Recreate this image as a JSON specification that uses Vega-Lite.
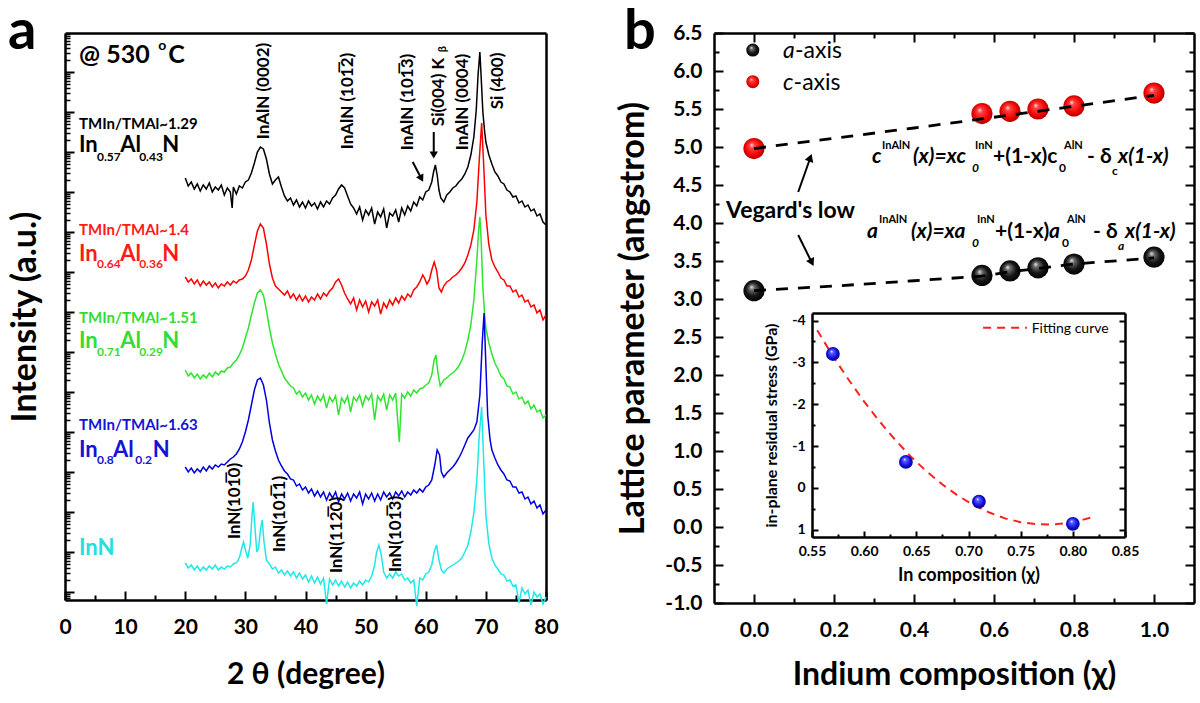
{
"$schema":"https://vega.github.io/schema/vega-lite/v6.json",
"width":1200,"height":703,"autosize":"none","padding":0,"background":"white",
"config":{"view":{"stroke":null},"font":"Lato","text":{"font":"Lato"},
"axis":{"grid":false,"domainColor":"#000","domainWidth":2.5,"tickColor":"#000","tickWidth":2,"labelColor":"#000","labelFont":"Lato","labelFontWeight":"bold","titleColor":"#000","titleFont":"Lato","titleFontWeight":"bold","labelOverlap":false,"labelFlush":false}},
"resolve":{"scale":{"x":"independent","y":"independent","color":"independent"},"axis":{"x":"independent","y":"independent"}},
"datasets":{
"dummy":[{"v":0}],
"xrd":[
{"s":"k","x":20,"y":422},{"s":"k","x":20.5,"y":414},{"s":"k","x":21,"y":418},{"s":"k","x":21.5,"y":411},{"s":"k","x":22,"y":416},{"s":"k","x":22.5,"y":409},{"s":"k","x":23,"y":415},{"s":"k","x":23.5,"y":411},{"s":"k","x":24,"y":417},{"s":"k","x":24.5,"y":408},{"s":"k","x":25,"y":413},{"s":"k","x":25.5,"y":410},{"s":"k","x":26,"y":415},{"s":"k","x":26.5,"y":405},{"s":"k","x":27,"y":412},{"s":"k","x":27.5,"y":408},{"s":"k","x":27.8,"y":392},{"s":"k","x":28,"y":413},{"s":"k","x":28.5,"y":406},{"s":"k","x":29,"y":414},{"s":"k","x":29.5,"y":412},{"s":"k","x":30,"y":418},{"s":"k","x":30.5,"y":420},{"s":"k","x":31,"y":427},{"s":"k","x":31.5,"y":437},{"s":"k","x":32,"y":448},{"s":"k","x":32.5,"y":453},{"s":"k","x":33,"y":451},{"s":"k","x":33.5,"y":441},{"s":"k","x":34,"y":426},{"s":"k","x":34.5,"y":416},{"s":"k","x":35,"y":420},{"s":"k","x":35.5,"y":423},{"s":"k","x":36,"y":413},{"s":"k","x":36.5,"y":404},{"s":"k","x":37,"y":399},{"s":"k","x":37.5,"y":402},{"s":"k","x":38,"y":395},{"s":"k","x":38.5,"y":400},{"s":"k","x":39,"y":393},{"s":"k","x":39.5,"y":398},{"s":"k","x":40,"y":392},{"s":"k","x":40.5,"y":399},{"s":"k","x":41,"y":394},{"s":"k","x":41.5,"y":397},{"s":"k","x":42,"y":391},{"s":"k","x":42.5,"y":398},{"s":"k","x":43,"y":393},{"s":"k","x":43.5,"y":399},{"s":"k","x":44,"y":396},{"s":"k","x":44.5,"y":402},{"s":"k","x":45,"y":405},{"s":"k","x":45.5,"y":411},{"s":"k","x":46,"y":415},{"s":"k","x":46.5,"y":412},{"s":"k","x":47,"y":404},{"s":"k","x":47.5,"y":396},{"s":"k","x":48,"y":392},{"s":"k","x":48.5,"y":386},{"s":"k","x":49,"y":393},{"s":"k","x":49.5,"y":380},{"s":"k","x":50,"y":390},{"s":"k","x":50.5,"y":385},{"s":"k","x":51,"y":392},{"s":"k","x":51.5,"y":376},{"s":"k","x":52,"y":388},{"s":"k","x":52.5,"y":383},{"s":"k","x":53,"y":391},{"s":"k","x":53.5,"y":372},{"s":"k","x":54,"y":387},{"s":"k","x":54.5,"y":384},{"s":"k","x":55,"y":390},{"s":"k","x":55.5,"y":378},{"s":"k","x":56,"y":392},{"s":"k","x":56.5,"y":385},{"s":"k","x":57,"y":394},{"s":"k","x":57.5,"y":389},{"s":"k","x":58,"y":398},{"s":"k","x":58.5,"y":394},{"s":"k","x":59,"y":403},{"s":"k","x":59.5,"y":400},{"s":"k","x":60,"y":408},{"s":"k","x":60.5,"y":410},{"s":"k","x":61,"y":418},{"s":"k","x":61.3,"y":428},{"s":"k","x":61.6,"y":435},{"s":"k","x":61.9,"y":425},{"s":"k","x":62.2,"y":410},{"s":"k","x":62.5,"y":402},{"s":"k","x":63,"y":398},{"s":"k","x":63.5,"y":405},{"s":"k","x":64,"y":408},{"s":"k","x":64.5,"y":412},{"s":"k","x":65,"y":414},{"s":"k","x":65.5,"y":418},{"s":"k","x":66,"y":421},{"s":"k","x":66.5,"y":426},{"s":"k","x":67,"y":433},{"s":"k","x":67.5,"y":445},{"s":"k","x":68,"y":463},{"s":"k","x":68.4,"y":490},{"s":"k","x":68.7,"y":525},{"s":"k","x":69,"y":548},{"s":"k","x":69.2,"y":525},{"s":"k","x":69.5,"y":488},{"s":"k","x":69.8,"y":468},{"s":"k","x":70,"y":458},{"s":"k","x":70.5,"y":445},{"s":"k","x":71,"y":436},{"s":"k","x":71.5,"y":428},{"s":"k","x":72,"y":424},{"s":"k","x":72.5,"y":418},{"s":"k","x":73,"y":416},{"s":"k","x":73.5,"y":410},{"s":"k","x":74,"y":408},{"s":"k","x":74.5,"y":403},{"s":"k","x":75,"y":404},{"s":"k","x":75.5,"y":397},{"s":"k","x":76,"y":399},{"s":"k","x":76.5,"y":393},{"s":"k","x":77,"y":395},{"s":"k","x":77.5,"y":389},{"s":"k","x":78,"y":391},{"s":"k","x":78.5,"y":384},{"s":"k","x":79,"y":386},{"s":"k","x":79.5,"y":378},{"s":"k","x":80,"y":375},
{"s":"r","x":20,"y":323},{"s":"r","x":20.5,"y":318},{"s":"r","x":21,"y":321},{"s":"r","x":21.5,"y":316},{"s":"r","x":22,"y":320},{"s":"r","x":22.5,"y":314},{"s":"r","x":23,"y":319},{"s":"r","x":23.5,"y":315},{"s":"r","x":24,"y":318},{"s":"r","x":24.5,"y":313},{"s":"r","x":25,"y":317},{"s":"r","x":25.5,"y":312},{"s":"r","x":26,"y":316},{"s":"r","x":26.5,"y":314},{"s":"r","x":27,"y":318},{"s":"r","x":27.5,"y":315},{"s":"r","x":28,"y":319},{"s":"r","x":28.5,"y":317},{"s":"r","x":29,"y":320},{"s":"r","x":29.5,"y":321},{"s":"r","x":30,"y":324},{"s":"r","x":30.5,"y":330},{"s":"r","x":31,"y":340},{"s":"r","x":31.5,"y":355},{"s":"r","x":32,"y":369},{"s":"r","x":32.5,"y":376},{"s":"r","x":33,"y":372},{"s":"r","x":33.5,"y":356},{"s":"r","x":34,"y":336},{"s":"r","x":34.5,"y":322},{"s":"r","x":35,"y":314},{"s":"r","x":35.5,"y":311},{"s":"r","x":36,"y":308},{"s":"r","x":36.5,"y":305},{"s":"r","x":37,"y":309},{"s":"r","x":37.5,"y":302},{"s":"r","x":38,"y":306},{"s":"r","x":38.5,"y":300},{"s":"r","x":39,"y":305},{"s":"r","x":39.5,"y":299},{"s":"r","x":40,"y":304},{"s":"r","x":40.5,"y":298},{"s":"r","x":41,"y":303},{"s":"r","x":41.5,"y":300},{"s":"r","x":42,"y":306},{"s":"r","x":42.5,"y":301},{"s":"r","x":43,"y":307},{"s":"r","x":43.5,"y":304},{"s":"r","x":44,"y":309},{"s":"r","x":44.5,"y":312},{"s":"r","x":45,"y":318},{"s":"r","x":45.5,"y":321},{"s":"r","x":46,"y":315},{"s":"r","x":46.5,"y":307},{"s":"r","x":47,"y":301},{"s":"r","x":47.5,"y":296},{"s":"r","x":48,"y":302},{"s":"r","x":48.5,"y":290},{"s":"r","x":49,"y":300},{"s":"r","x":49.5,"y":293},{"s":"r","x":50,"y":299},{"s":"r","x":50.5,"y":288},{"s":"r","x":51,"y":298},{"s":"r","x":51.5,"y":294},{"s":"r","x":52,"y":300},{"s":"r","x":52.5,"y":286},{"s":"r","x":53,"y":297},{"s":"r","x":53.5,"y":292},{"s":"r","x":54,"y":300},{"s":"r","x":54.5,"y":295},{"s":"r","x":55,"y":302},{"s":"r","x":55.5,"y":297},{"s":"r","x":56,"y":304},{"s":"r","x":56.5,"y":300},{"s":"r","x":57,"y":306},{"s":"r","x":57.5,"y":303},{"s":"r","x":58,"y":310},{"s":"r","x":58.5,"y":313},{"s":"r","x":59,"y":318},{"s":"r","x":59.5,"y":325},{"s":"r","x":59.8,"y":322},{"s":"r","x":60.2,"y":316},{"s":"r","x":60.6,"y":320},{"s":"r","x":61,"y":330},{"s":"r","x":61.4,"y":338},{"s":"r","x":61.8,"y":330},{"s":"r","x":62.2,"y":312},{"s":"r","x":62.6,"y":308},{"s":"r","x":63,"y":314},{"s":"r","x":63.5,"y":318},{"s":"r","x":64,"y":320},{"s":"r","x":64.5,"y":323},{"s":"r","x":65,"y":325},{"s":"r","x":65.5,"y":328},{"s":"r","x":66,"y":332},{"s":"r","x":66.5,"y":337},{"s":"r","x":67,"y":345},{"s":"r","x":67.5,"y":355},{"s":"r","x":68,"y":370},{"s":"r","x":68.5,"y":398},{"s":"r","x":68.9,"y":440},{"s":"r","x":69.3,"y":477},{"s":"r","x":69.6,"y":440},{"s":"r","x":70,"y":385},{"s":"r","x":70.5,"y":355},{"s":"r","x":71,"y":340},{"s":"r","x":71.5,"y":333},{"s":"r","x":72,"y":328},{"s":"r","x":72.5,"y":322},{"s":"r","x":73,"y":320},{"s":"r","x":73.5,"y":314},{"s":"r","x":74,"y":314},{"s":"r","x":74.5,"y":308},{"s":"r","x":75,"y":310},{"s":"r","x":75.5,"y":303},{"s":"r","x":76,"y":305},{"s":"r","x":76.5,"y":298},{"s":"r","x":77,"y":300},{"s":"r","x":77.5,"y":293},{"s":"r","x":78,"y":295},{"s":"r","x":78.5,"y":287},{"s":"r","x":79,"y":290},{"s":"r","x":79.5,"y":280},{"s":"r","x":80,"y":285},
{"s":"g","x":20,"y":230},{"s":"g","x":20.5,"y":224},{"s":"g","x":21,"y":227},{"s":"g","x":21.5,"y":222},{"s":"g","x":22,"y":226},{"s":"g","x":22.5,"y":221},{"s":"g","x":23,"y":225},{"s":"g","x":23.5,"y":222},{"s":"g","x":24,"y":227},{"s":"g","x":24.5,"y":223},{"s":"g","x":25,"y":228},{"s":"g","x":25.5,"y":225},{"s":"g","x":26,"y":229},{"s":"g","x":26.5,"y":228},{"s":"g","x":27,"y":232},{"s":"g","x":27.5,"y":233},{"s":"g","x":28,"y":237},{"s":"g","x":28.5,"y":240},{"s":"g","x":29,"y":245},{"s":"g","x":29.5,"y":252},{"s":"g","x":30,"y":262},{"s":"g","x":30.5,"y":272},{"s":"g","x":31,"y":285},{"s":"g","x":31.5,"y":297},{"s":"g","x":32,"y":307},{"s":"g","x":32.5,"y":310},{"s":"g","x":33,"y":305},{"s":"g","x":33.5,"y":290},{"s":"g","x":34,"y":272},{"s":"g","x":34.5,"y":257},{"s":"g","x":35,"y":246},{"s":"g","x":35.5,"y":236},{"s":"g","x":36,"y":229},{"s":"g","x":36.5,"y":222},{"s":"g","x":37,"y":218},{"s":"g","x":37.5,"y":214},{"s":"g","x":38,"y":212},{"s":"g","x":38.5,"y":206},{"s":"g","x":39,"y":209},{"s":"g","x":39.5,"y":203},{"s":"g","x":40,"y":207},{"s":"g","x":40.5,"y":200},{"s":"g","x":41,"y":205},{"s":"g","x":41.5,"y":196},{"s":"g","x":42,"y":204},{"s":"g","x":42.5,"y":199},{"s":"g","x":43,"y":205},{"s":"g","x":43.5,"y":192},{"s":"g","x":44,"y":203},{"s":"g","x":44.5,"y":198},{"s":"g","x":45,"y":204},{"s":"g","x":45.5,"y":185},{"s":"g","x":46,"y":202},{"s":"g","x":46.5,"y":197},{"s":"g","x":47,"y":204},{"s":"g","x":47.5,"y":188},{"s":"g","x":48,"y":203},{"s":"g","x":48.5,"y":199},{"s":"g","x":49,"y":205},{"s":"g","x":49.5,"y":194},{"s":"g","x":50,"y":204},{"s":"g","x":50.5,"y":200},{"s":"g","x":51,"y":206},{"s":"g","x":51.5,"y":180},{"s":"g","x":52,"y":204},{"s":"g","x":52.5,"y":199},{"s":"g","x":53,"y":206},{"s":"g","x":53.5,"y":190},{"s":"g","x":54,"y":205},{"s":"g","x":54.5,"y":200},{"s":"g","x":55,"y":207},{"s":"g","x":55.6,"y":158},{"s":"g","x":56,"y":206},{"s":"g","x":56.5,"y":202},{"s":"g","x":57,"y":208},{"s":"g","x":57.5,"y":204},{"s":"g","x":58,"y":210},{"s":"g","x":58.5,"y":207},{"s":"g","x":59,"y":211},{"s":"g","x":59.5,"y":212},{"s":"g","x":60,"y":215},{"s":"g","x":60.5,"y":217},{"s":"g","x":61,"y":225},{"s":"g","x":61.4,"y":240},{"s":"g","x":61.7,"y":245},{"s":"g","x":62,"y":228},{"s":"g","x":62.4,"y":214},{"s":"g","x":63,"y":220},{"s":"g","x":63.5,"y":222},{"s":"g","x":64,"y":225},{"s":"g","x":64.5,"y":227},{"s":"g","x":65,"y":230},{"s":"g","x":65.5,"y":234},{"s":"g","x":66,"y":240},{"s":"g","x":66.5,"y":248},{"s":"g","x":67,"y":260},{"s":"g","x":67.5,"y":275},{"s":"g","x":68,"y":300},{"s":"g","x":68.5,"y":340},{"s":"g","x":68.8,"y":370},{"s":"g","x":69,"y":383},{"s":"g","x":69.2,"y":362},{"s":"g","x":69.5,"y":312},{"s":"g","x":69.8,"y":285},{"s":"g","x":70,"y":272},{"s":"g","x":70.5,"y":257},{"s":"g","x":71,"y":246},{"s":"g","x":71.5,"y":237},{"s":"g","x":72,"y":231},{"s":"g","x":72.5,"y":224},{"s":"g","x":73,"y":221},{"s":"g","x":73.5,"y":214},{"s":"g","x":74,"y":213},{"s":"g","x":74.5,"y":206},{"s":"g","x":75,"y":208},{"s":"g","x":75.5,"y":201},{"s":"g","x":76,"y":203},{"s":"g","x":76.5,"y":196},{"s":"g","x":77,"y":199},{"s":"g","x":77.5,"y":191},{"s":"g","x":78,"y":195},{"s":"g","x":78.5,"y":188},{"s":"g","x":79,"y":190},{"s":"g","x":79.5,"y":182},{"s":"g","x":80,"y":185},
{"s":"b","x":20,"y":133},{"s":"b","x":20.5,"y":128},{"s":"b","x":21,"y":132},{"s":"b","x":21.5,"y":127},{"s":"b","x":22,"y":131},{"s":"b","x":22.5,"y":128},{"s":"b","x":23,"y":133},{"s":"b","x":23.5,"y":129},{"s":"b","x":24,"y":134},{"s":"b","x":24.5,"y":131},{"s":"b","x":25,"y":135},{"s":"b","x":25.5,"y":133},{"s":"b","x":26,"y":136},{"s":"b","x":26.5,"y":135},{"s":"b","x":27,"y":138},{"s":"b","x":27.5,"y":141},{"s":"b","x":28,"y":143},{"s":"b","x":28.5,"y":146},{"s":"b","x":29,"y":151},{"s":"b","x":29.5,"y":158},{"s":"b","x":30,"y":168},{"s":"b","x":30.5,"y":180},{"s":"b","x":31,"y":195},{"s":"b","x":31.5,"y":210},{"s":"b","x":32,"y":220},{"s":"b","x":32.5,"y":222},{"s":"b","x":33,"y":215},{"s":"b","x":33.5,"y":200},{"s":"b","x":34,"y":177},{"s":"b","x":34.5,"y":160},{"s":"b","x":35,"y":149},{"s":"b","x":35.5,"y":140},{"s":"b","x":36,"y":134},{"s":"b","x":36.5,"y":129},{"s":"b","x":37,"y":126},{"s":"b","x":37.5,"y":121},{"s":"b","x":38,"y":120},{"s":"b","x":38.5,"y":114},{"s":"b","x":39,"y":116},{"s":"b","x":39.5,"y":110},{"s":"b","x":40,"y":113},{"s":"b","x":40.5,"y":107},{"s":"b","x":41,"y":111},{"s":"b","x":41.5,"y":104},{"s":"b","x":42,"y":109},{"s":"b","x":42.5,"y":103},{"s":"b","x":43,"y":108},{"s":"b","x":43.5,"y":100},{"s":"b","x":44,"y":107},{"s":"b","x":44.5,"y":102},{"s":"b","x":45,"y":108},{"s":"b","x":45.5,"y":98},{"s":"b","x":46,"y":106},{"s":"b","x":46.5,"y":101},{"s":"b","x":47,"y":107},{"s":"b","x":47.5,"y":99},{"s":"b","x":48,"y":106},{"s":"b","x":48.5,"y":102},{"s":"b","x":49,"y":108},{"s":"b","x":49.5,"y":96},{"s":"b","x":50,"y":106},{"s":"b","x":50.5,"y":101},{"s":"b","x":51,"y":107},{"s":"b","x":51.5,"y":99},{"s":"b","x":52,"y":106},{"s":"b","x":52.5,"y":100},{"s":"b","x":53,"y":108},{"s":"b","x":53.5,"y":103},{"s":"b","x":54,"y":107},{"s":"b","x":54.5,"y":101},{"s":"b","x":55,"y":108},{"s":"b","x":55.5,"y":104},{"s":"b","x":56,"y":109},{"s":"b","x":56.5,"y":103},{"s":"b","x":57,"y":108},{"s":"b","x":57.5,"y":105},{"s":"b","x":58,"y":110},{"s":"b","x":58.5,"y":107},{"s":"b","x":59,"y":111},{"s":"b","x":59.5,"y":108},{"s":"b","x":60,"y":113},{"s":"b","x":60.5,"y":115},{"s":"b","x":61,"y":120},{"s":"b","x":61.5,"y":135},{"s":"b","x":61.9,"y":150},{"s":"b","x":62.3,"y":145},{"s":"b","x":62.6,"y":128},{"s":"b","x":63,"y":123},{"s":"b","x":63.5,"y":127},{"s":"b","x":64,"y":130},{"s":"b","x":64.5,"y":133},{"s":"b","x":65,"y":137},{"s":"b","x":65.5,"y":142},{"s":"b","x":66,"y":148},{"s":"b","x":66.5,"y":155},{"s":"b","x":67,"y":162},{"s":"b","x":67.5,"y":166},{"s":"b","x":68,"y":170},{"s":"b","x":68.5,"y":178},{"s":"b","x":69,"y":205},{"s":"b","x":69.4,"y":258},{"s":"b","x":69.7,"y":287},{"s":"b","x":70,"y":235},{"s":"b","x":70.3,"y":185},{"s":"b","x":70.7,"y":160},{"s":"b","x":71,"y":150},{"s":"b","x":71.5,"y":142},{"s":"b","x":72,"y":135},{"s":"b","x":72.5,"y":130},{"s":"b","x":73,"y":126},{"s":"b","x":73.5,"y":120},{"s":"b","x":74,"y":119},{"s":"b","x":74.5,"y":113},{"s":"b","x":75,"y":113},{"s":"b","x":75.5,"y":107},{"s":"b","x":76,"y":108},{"s":"b","x":76.5,"y":101},{"s":"b","x":77,"y":103},{"s":"b","x":77.5,"y":96},{"s":"b","x":78,"y":99},{"s":"b","x":78.5,"y":92},{"s":"b","x":79,"y":95},{"s":"b","x":79.5,"y":86},{"s":"b","x":80,"y":90},
{"s":"c","x":20,"y":37},{"s":"c","x":20.5,"y":32},{"s":"c","x":21,"y":35},{"s":"c","x":21.5,"y":30},{"s":"c","x":22,"y":34},{"s":"c","x":22.5,"y":29},{"s":"c","x":23,"y":33},{"s":"c","x":23.5,"y":30},{"s":"c","x":24,"y":34},{"s":"c","x":24.5,"y":31},{"s":"c","x":25,"y":35},{"s":"c","x":25.5,"y":30},{"s":"c","x":26,"y":33},{"s":"c","x":26.5,"y":31},{"s":"c","x":27,"y":34},{"s":"c","x":27.5,"y":33},{"s":"c","x":28,"y":36},{"s":"c","x":28.5,"y":37},{"s":"c","x":29,"y":42},{"s":"c","x":29.4,"y":52},{"s":"c","x":29.7,"y":58},{"s":"c","x":30,"y":50},{"s":"c","x":30.4,"y":42},{"s":"c","x":30.8,"y":55},{"s":"c","x":31.1,"y":85},{"s":"c","x":31.3,"y":98},{"s":"c","x":31.6,"y":72},{"s":"c","x":31.9,"y":48},{"s":"c","x":32.2,"y":52},{"s":"c","x":32.5,"y":70},{"s":"c","x":32.8,"y":80},{"s":"c","x":33.1,"y":58},{"s":"c","x":33.5,"y":40},{"s":"c","x":34,"y":36},{"s":"c","x":34.5,"y":31},{"s":"c","x":35,"y":33},{"s":"c","x":35.5,"y":27},{"s":"c","x":36,"y":30},{"s":"c","x":36.5,"y":25},{"s":"c","x":37,"y":29},{"s":"c","x":37.5,"y":24},{"s":"c","x":38,"y":28},{"s":"c","x":38.5,"y":22},{"s":"c","x":39,"y":27},{"s":"c","x":39.5,"y":21},{"s":"c","x":40,"y":25},{"s":"c","x":40.5,"y":18},{"s":"c","x":41,"y":24},{"s":"c","x":41.5,"y":17},{"s":"c","x":42,"y":23},{"s":"c","x":42.5,"y":16},{"s":"c","x":43,"y":22},{"s":"c","x":43.5,"y":-4},{"s":"c","x":44,"y":21},{"s":"c","x":44.5,"y":15},{"s":"c","x":45,"y":20},{"s":"c","x":45.5,"y":14},{"s":"c","x":46,"y":19},{"s":"c","x":46.5,"y":13},{"s":"c","x":47,"y":18},{"s":"c","x":47.5,"y":12},{"s":"c","x":48,"y":17},{"s":"c","x":48.5,"y":14},{"s":"c","x":49,"y":19},{"s":"c","x":49.5,"y":15},{"s":"c","x":50,"y":20},{"s":"c","x":50.5,"y":18},{"s":"c","x":51,"y":24},{"s":"c","x":51.5,"y":35},{"s":"c","x":51.8,"y":47},{"s":"c","x":52.2,"y":55},{"s":"c","x":52.6,"y":45},{"s":"c","x":53,"y":28},{"s":"c","x":53.5,"y":22},{"s":"c","x":54,"y":26},{"s":"c","x":54.5,"y":22},{"s":"c","x":55,"y":28},{"s":"c","x":55.5,"y":24},{"s":"c","x":56,"y":26},{"s":"c","x":56.5,"y":20},{"s":"c","x":57,"y":22},{"s":"c","x":57.5,"y":17},{"s":"c","x":58,"y":20},{"s":"c","x":58.5,"y":-6},{"s":"c","x":59,"y":22},{"s":"c","x":59.5,"y":20},{"s":"c","x":60,"y":26},{"s":"c","x":60.5,"y":28},{"s":"c","x":61,"y":35},{"s":"c","x":61.4,"y":48},{"s":"c","x":61.8,"y":55},{"s":"c","x":62.2,"y":40},{"s":"c","x":62.6,"y":30},{"s":"c","x":63,"y":27},{"s":"c","x":63.5,"y":31},{"s":"c","x":64,"y":33},{"s":"c","x":64.5,"y":35},{"s":"c","x":65,"y":37},{"s":"c","x":65.5,"y":39},{"s":"c","x":66,"y":42},{"s":"c","x":66.5,"y":48},{"s":"c","x":67,"y":55},{"s":"c","x":67.5,"y":68},{"s":"c","x":68,"y":87},{"s":"c","x":68.5,"y":120},{"s":"c","x":68.9,"y":165},{"s":"c","x":69.3,"y":193},{"s":"c","x":69.6,"y":145},{"s":"c","x":70,"y":85},{"s":"c","x":70.5,"y":56},{"s":"c","x":71,"y":42},{"s":"c","x":71.5,"y":35},{"s":"c","x":72,"y":31},{"s":"c","x":72.5,"y":26},{"s":"c","x":73,"y":25},{"s":"c","x":73.5,"y":19},{"s":"c","x":74,"y":20},{"s":"c","x":74.5,"y":14},{"s":"c","x":75,"y":15},{"s":"c","x":75.5,"y":-3},{"s":"c","x":76,"y":12},{"s":"c","x":76.5,"y":6},{"s":"c","x":77,"y":10},{"s":"c","x":77.5,"y":-5},{"s":"c","x":78,"y":8},{"s":"c","x":78.5,"y":3},{"s":"c","x":79,"y":6},{"s":"c","x":79.5,"y":-4},{"s":"c","x":80,"y":3}
],
"textA":[
{"t":"a","x":-9.5,"y":551,"s":"k","k":"letter"},
{"t":"@ 530","x":2.33,"y":537,"s":"k","k":"title"},{"t":"o","x":15.5,"y":550,"s":"k","k":"sup"},{"t":"C","x":17.17,"y":537,"s":"k","k":"title"},
{"t":"TMIn/TMAl~1.29","x":2.33,"y":471,"s":"k","k":"tm"},{"t":"In","x":2.33,"y":448,"s":"k","k":"big"},{"t":"0.57","x":5.33,"y":439,"s":"k","k":"sub"},{"t":"Al","x":9.17,"y":448,"s":"k","k":"big"},{"t":"0.43","x":12.33,"y":439,"s":"k","k":"sub"},{"t":"N","x":16.17,"y":448,"s":"k","k":"big"},
{"t":"TMIn/TMAl~1.4","x":2.33,"y":365,"s":"r","k":"tm"},{"t":"In","x":2.33,"y":339,"s":"r","k":"big"},{"t":"0.64","x":5.33,"y":332,"s":"r","k":"sub"},{"t":"Al","x":9.17,"y":339,"s":"r","k":"big"},{"t":"0.36","x":12.33,"y":332,"s":"r","k":"sub"},{"t":"N","x":16.17,"y":339,"s":"r","k":"big"},
{"t":"TMIn/TMAl~1.51","x":2.33,"y":277,"s":"g","k":"tm"},{"t":"In","x":2.33,"y":252,"s":"g","k":"big"},{"t":"0.71","x":5.33,"y":244,"s":"g","k":"sub"},{"t":"Al","x":9.17,"y":252,"s":"g","k":"big"},{"t":"0.29","x":12.33,"y":244,"s":"g","k":"sub"},{"t":"N","x":16.17,"y":252,"s":"g","k":"big"},
{"t":"TMIn/TMAl~1.63","x":2.33,"y":170,"s":"b","k":"tm"},{"t":"In","x":2.33,"y":143,"s":"b","k":"big"},{"t":"0.8","x":5.33,"y":136,"s":"b","k":"sub"},{"t":"Al","x":8,"y":143,"s":"b","k":"big"},{"t":"0.2","x":11.67,"y":136,"s":"b","k":"sub"},{"t":"N","x":14.6,"y":143,"s":"b","k":"big"},
{"t":"InN","x":2.33,"y":45,"s":"c","k":"big"}
],
"peaks":[
{"t":"InAlN (0002)","x":33.17,"y":509,"k":"pk"},
{"t":"InAlN (10\u0031\u03052)","x":47,"y":499,"k":"pk"},
{"t":"InAlN (10\u0031\u03053)","x":57,"y":498,"k":"pk"},
{"t":"Si(004) K","x":62.17,"y":508,"k":"pk"},
{"t":"β","x":62.9,"y":551,"k":"beta"},
{"t":"InAlN (0004)","x":66.17,"y":498,"k":"pk"},
{"t":"Si (400)","x":72,"y":519,"k":"pk"},
{"t":"InN(10\u0031\u03050)","x":28.33,"y":99,"k":"pk"},
{"t":"InN(10\u0031\u03051)","x":35.83,"y":86,"k":"pk"},
{"t":"InN(11\u0032\u03050)","x":45.17,"y":65,"k":"pk"},
{"t":"InN(10\u0031\u03053)","x":55,"y":66,"k":"pk"}
],
"arrA":[{"id":1,"x":61.33,"y":468},{"id":1,"x":61.33,"y":445},{"id":2,"x":57.83,"y":438},{"id":2,"x":59.28,"y":421.4}],
"bpts":[{"s":"a","x":0,"y":3.11},{"s":"a","x":0.57,"y":3.31},{"s":"a","x":0.64,"y":3.37},{"s":"a","x":0.71,"y":3.41},{"s":"a","x":0.8,"y":3.46},{"s":"a","x":1,"y":3.55},{"s":"c","x":0,"y":4.98},{"s":"c","x":0.57,"y":5.44},{"s":"c","x":0.64,"y":5.47},{"s":"c","x":0.71,"y":5.5},{"s":"c","x":0.8,"y":5.54},{"s":"c","x":1,"y":5.71}],
"blines":[{"s":"c","x":0,"y":4.98},{"s":"c","x":0.2,"y":5.115},{"s":"c","x":0.4,"y":5.25},{"s":"c","x":0.57,"y":5.37},{"s":"c","x":0.64,"y":5.42},{"s":"c","x":0.71,"y":5.47},{"s":"c","x":0.8,"y":5.535},{"s":"c","x":1,"y":5.68},{"s":"a","x":0,"y":3.11},{"s":"a","x":0.2,"y":3.17},{"s":"a","x":0.4,"y":3.24},{"s":"a","x":0.57,"y":3.3},{"s":"a","x":0.64,"y":3.36},{"s":"a","x":0.71,"y":3.4},{"s":"a","x":0.8,"y":3.46},{"s":"a","x":1,"y":3.54}],
"legB":[{"s":"a","x":-0.003,"y":6.276},{"s":"c","x":-0.003,"y":5.859}],
"arrB":[{"id":1,"x":0.1105,"y":4.408},{"id":1,"x":0.1408,"y":4.859},{"id":2,"x":0.1105,"y":3.842},{"id":2,"x":0.1445,"y":3.48}],
"textBu":[
{"t":"b","x":-0.325,"y":6.29,"k":"letter"},
{"t":"Vegard's low","x":-0.07,"y":4.066,"k":"vl"},
{"t":"InAlN","x":0.32,"y":4.974,"k":"sup"},{"t":"InN","x":0.5525,"y":4.974,"k":"sup"},{"t":"+(1-x)c","x":0.5975,"y":4.789,"k":"eq"},{"t":"0","x":0.7625,"y":4.671,"k":"sub"},{"t":"AlN","x":0.775,"y":4.974,"k":"sup"},{"t":"- δ","x":0.8325,"y":4.789,"k":"eq"},{"t":"c","x":0.895,"y":4.632,"k":"sub"},
{"t":"InAlN","x":0.3125,"y":4.0,"k":"sup"},{"t":"InN","x":0.5575,"y":4.0,"k":"sup"},{"t":"+(1-x)","x":0.6025,"y":3.803,"k":"eq"},{"t":"0","x":0.77,"y":3.684,"k":"sub"},{"t":"AlN","x":0.7825,"y":4.0,"k":"sup"},{"t":"- δ","x":0.8475,"y":3.803,"k":"eq"}
],
"textBi":[
{"t":"c","x":0.295,"y":4.789,"k":"eq"},{"t":"(x)=xc","x":0.3975,"y":4.789,"k":"eq"},{"t":"0","x":0.545,"y":4.671,"k":"sub"},{"t":"x(1-x)","x":0.91,"y":4.789,"k":"eq"},
{"t":"a","x":0.2825,"y":3.803,"k":"eq"},{"t":"(x)=xa","x":0.3925,"y":3.803,"k":"eq"},{"t":"0","x":0.545,"y":3.684,"k":"sub"},{"t":"a","x":0.7375,"y":3.803,"k":"eq"},{"t":"a","x":0.91,"y":3.645,"k":"sub"},{"t":"x(1-x)","x":0.9275,"y":3.803,"k":"eq"}
],
"legTxtR":[{"t":"-axis","x":0.1025,"y":6.171},{"t":"-axis","x":0.099,"y":5.75}],
"legTxtI":[{"t":"a","x":0.0725,"y":6.171},{"t":"c","x":0.0725,"y":5.75}],
"fit":[{"x":0.555,"y":-3.77},{"x":0.57,"y":-3.15},{"x":0.585,"y":-2.59},{"x":0.6,"y":-2.06},{"x":0.615,"y":-1.58},{"x":0.63,"y":-1.14},{"x":0.645,"y":-0.74},{"x":0.66,"y":-0.39},{"x":0.675,"y":-0.08},{"x":0.69,"y":0.19},{"x":0.705,"y":0.41},{"x":0.72,"y":0.59},{"x":0.735,"y":0.73},{"x":0.75,"y":0.82},{"x":0.765,"y":0.87},{"x":0.78,"y":0.88},{"x":0.795,"y":0.84},{"x":0.81,"y":0.76},{"x":0.82,"y":0.69}],
"fitLeg":[{"x":0.714,"y":-3.83},{"x":0.756,"y":-3.83}],
"ipts":[{"x":0.57,"y":-3.2},{"x":0.64,"y":-0.62},{"x":0.71,"y":0.33},{"x":0.8,"y":0.86}],
"fitTxt":[{"t":"Fitting curve","x":0.7606,"y":-3.7}]
},
"layer":[
{"data":{"name":"xrd"},"mark":{"type":"line","strokeWidth":1.5},
 "encoding":{"x":{"field":"x","type":"quantitative","scale":{"domain":[0,80],"range":[65,546],"nice":false,"zero":false},"axis":null},
 "y":{"field":"y","type":"quantitative","scale":{"domain":[0,567],"range":[600,33],"nice":false,"zero":false},"axis":null},
 "color":{"field":"s","type":"nominal","scale":{"domain":["k","r","g","b","c"],"range":["#000000","#ff0000","#2ee62e","#0000e0","#1ee8e8"]},"legend":null}}},
{"data":{"name":"arrA"},"mark":{"type":"line","strokeWidth":2,"color":"#000"},
 "encoding":{"x":{"field":"x","type":"quantitative","scale":{"domain":[0,80],"range":[65,546],"nice":false,"zero":false},"axis":null},
 "y":{"field":"y","type":"quantitative","scale":{"domain":[0,567],"range":[600,33],"nice":false,"zero":false},"axis":null},
 "detail":{"field":"id","type":"nominal"}}},
{"data":{"name":"arrA"},"transform":[{"filter":"datum.id==1 && datum.y<450"}],"mark":{"type":"point","shape":"triangle-down","filled":true,"color":"#000","opacity":1,"size":70},
 "encoding":{"x":{"field":"x","type":"quantitative","scale":{"domain":[0,80],"range":[65,546],"nice":false,"zero":false},"axis":null},
 "y":{"field":"y","type":"quantitative","scale":{"domain":[0,567],"range":[600,33],"nice":false,"zero":false},"axis":null}}},
{"data":{"name":"arrA"},"transform":[{"filter":"datum.id==2 && datum.y<430"}],"mark":{"type":"point","shape":"triangle-down","angle":332,"filled":true,"color":"#000","opacity":1,"size":70},
 "encoding":{"x":{"field":"x","type":"quantitative","scale":{"domain":[0,80],"range":[65,546],"nice":false,"zero":false},"axis":null},
 "y":{"field":"y","type":"quantitative","scale":{"domain":[0,567],"range":[600,33],"nice":false,"zero":false},"axis":null}}},
{"data":{"name":"textA"},"mark":{"type":"text","align":"left","baseline":"alphabetic","fontWeight":"bold","font":"Lato",
  "fontSize":{"expr":"datum.k=='letter'?56:datum.k=='title'?25:datum.k=='sup'?14:datum.k=='tm'?15:datum.k=='big'?22:12"}},
 "encoding":{"x":{"field":"x","type":"quantitative","scale":{"domain":[0,80],"range":[65,546],"nice":false,"zero":false},"axis":null},
 "y":{"field":"y","type":"quantitative","scale":{"domain":[0,567],"range":[600,33],"nice":false,"zero":false},"axis":null},
 "text":{"field":"t"},
 "color":{"field":"s","type":"nominal","scale":{"domain":["k","r","g","b","c"],"range":["#000000","#ff1a1a","#33dd33","#1414d2","#22e0e0"]},"legend":null}}},
{"data":{"name":"peaks"},"mark":{"type":"text","align":"center","baseline":"middle","angle":270,"fontWeight":"bold","font":"Lato","color":"#000",
  "fontSize":{"expr":"datum.k=='beta'?11:17"}},
 "encoding":{"x":{"field":"x","type":"quantitative","scale":{"domain":[0,80],"range":[65,546],"nice":false,"zero":false},"axis":null},
 "y":{"field":"y","type":"quantitative","scale":{"domain":[0,567],"range":[600,33],"nice":false,"zero":false},"axis":null},
 "text":{"field":"t"}}},
{"data":{"name":"dummy"},"mark":{"type":"point","opacity":0},
 "encoding":{"x":{"field":"v","type":"quantitative","scale":{"domain":[0,80],"range":[65,546],"nice":false,"zero":false},
   "axis":{"orient":"bottom","offset":-103,"values":[0,10,20,30,40,50,60,70,80],"format":"d","tickSize":-9,"labelFontSize":21,"labelPadding":25,"title":"2 θ (degree)","titleFontSize":30,"titlePadding":22}},
 "y":{"field":"v","type":"quantitative","scale":{"domain":[0,567],"range":[600,33],"nice":false,"zero":false},
   "axis":{"orient":"left","offset":-65,"values":[8,48,88,128,168,208,248,288,328,368,408,448,488,528],"tickSize":-9,"labels":false,"title":"Intensity (a.u.)","titleFontSize":34,"titlePadding":22}}}},
{"data":{"name":"dummy"},"mark":{"type":"point","opacity":0},
 "encoding":{"x":{"field":"v","type":"quantitative","scale":{"domain":[0,80],"range":[65,546],"nice":false,"zero":false},
   "axis":{"orient":"bottom","offset":-103,"values":[5,15,25,35,45,55,65,75],"tickSize":-5,"labels":false,"domain":false,"title":null}},
 "y":{"field":"v","type":"quantitative","scale":{"domain":[0,567],"range":[600,33],"nice":false,"zero":false},
   "axis":{"orient":"left","offset":-65,"values":[1.8,4.12,6.17,20.04,27.08,32.08,35.96,39.13,41.8,44.12,46.17,60.04,67.08,72.08,75.96,79.13,81.8,84.12,86.17,100.04,107.08,112.08,115.96,119.13,121.8,124.12,126.17,140.04,147.08,152.08,155.96,159.13,161.8,164.12,166.17,180.04,187.08,192.08,195.96,199.13,201.8,204.12,206.17,220.04,227.08,232.08,235.96,239.13,241.8,244.12,246.17,260.04,267.08,272.08,275.96,279.13,281.8,284.12,286.17,300.04,307.08,312.08,315.96,319.13,321.8,324.12,326.17,340.04,347.08,352.08,355.96,359.13,361.8,364.12,366.17,380.04,387.08,392.08,395.96,399.13,401.8,404.12,406.17,420.04,427.08,432.08,435.96,439.13,441.8,444.12,446.17,460.04,467.08,472.08,475.96,479.13,481.8,484.12,486.17,500.04,507.08,512.08,515.96,519.13,521.8,524.12,526.17,540.04,547.08,552.08,555.96,559.13,561.8,564.12,566.17],"tickSize":-5,"tickWidth":1.5,"labels":false,"domain":false,"title":null}}}},
{"data":{"name":"dummy"},"mark":{"type":"point","opacity":0},
 "encoding":{"x":{"field":"v","type":"quantitative","scale":{"domain":[0,80],"range":[65,546],"nice":false,"zero":false},
   "axis":{"orient":"top","offset":-33,"ticks":false,"labels":false,"title":null,"values":[]}},
 "y":{"field":"v","type":"quantitative","scale":{"domain":[0,567],"range":[600,33],"nice":false,"zero":false},
   "axis":{"orient":"right","offset":-654,"ticks":false,"labels":false,"title":null,"values":[]}}}},

{"data":{"name":"bpts"},"transform":[{"filter":"datum.s=='a'"}],"mark":{"type":"point","filled":true,"opacity":1,"size":450,"strokeWidth":0,
  "fill":{"gradient":"radial","x1":0.38,"y1":0.32,"r1":0,"x2":0.5,"y2":0.5,"r2":0.55,"stops":[{"offset":0,"color":"#e8e8e8"},{"offset":0.22,"color":"#6a6a6a"},{"offset":0.6,"color":"#151515"},{"offset":1,"color":"#000000"}]}},
 "encoding":{"x":{"field":"x","type":"quantitative","scale":{"domain":[-0.1,1.1],"range":[714,1194],"nice":false,"zero":false},"axis":null},
 "y":{"field":"y","type":"quantitative","scale":{"domain":[-1,6.5],"range":[603,33],"nice":false,"zero":false},"axis":null}}},
{"data":{"name":"bpts"},"transform":[{"filter":"datum.s=='c'"}],"mark":{"type":"point","filled":true,"opacity":1,"size":450,"strokeWidth":0,
  "fill":{"gradient":"radial","x1":0.38,"y1":0.32,"r1":0,"x2":0.5,"y2":0.5,"r2":0.55,"stops":[{"offset":0,"color":"#ffe0e0"},{"offset":0.22,"color":"#ff4040"},{"offset":0.7,"color":"#ee0000"},{"offset":1,"color":"#a00000"}]}},
 "encoding":{"x":{"field":"x","type":"quantitative","scale":{"domain":[-0.1,1.1],"range":[714,1194],"nice":false,"zero":false},"axis":null},
 "y":{"field":"y","type":"quantitative","scale":{"domain":[-1,6.5],"range":[603,33],"nice":false,"zero":false},"axis":null}}},
{"data":{"name":"blines"},"mark":{"type":"line","strokeWidth":2.8,"strokeDash":[12,10],"color":"#000"},
 "encoding":{"x":{"field":"x","type":"quantitative","scale":{"domain":[-0.1,1.1],"range":[714,1194],"nice":false,"zero":false},"axis":null},
 "y":{"field":"y","type":"quantitative","scale":{"domain":[-1,6.5],"range":[603,33],"nice":false,"zero":false},"axis":null},
 "detail":{"field":"s","type":"nominal"}}},
{"data":{"name":"legB"},"transform":[{"filter":"datum.s=='a'"}],"mark":{"type":"point","filled":true,"opacity":1,"size":170,"strokeWidth":0,
  "fill":{"gradient":"radial","x1":0.38,"y1":0.32,"r1":0,"x2":0.5,"y2":0.5,"r2":0.55,"stops":[{"offset":0,"color":"#e8e8e8"},{"offset":0.22,"color":"#6a6a6a"},{"offset":0.6,"color":"#151515"},{"offset":1,"color":"#000000"}]}},
 "encoding":{"x":{"field":"x","type":"quantitative","scale":{"domain":[-0.1,1.1],"range":[714,1194],"nice":false,"zero":false},"axis":null},
 "y":{"field":"y","type":"quantitative","scale":{"domain":[-1,6.5],"range":[603,33],"nice":false,"zero":false},"axis":null}}},
{"data":{"name":"legB"},"transform":[{"filter":"datum.s=='c'"}],"mark":{"type":"point","filled":true,"opacity":1,"size":170,"strokeWidth":0,
  "fill":{"gradient":"radial","x1":0.38,"y1":0.32,"r1":0,"x2":0.5,"y2":0.5,"r2":0.55,"stops":[{"offset":0,"color":"#ffe0e0"},{"offset":0.22,"color":"#ff4040"},{"offset":0.7,"color":"#ee0000"},{"offset":1,"color":"#a00000"}]}},
 "encoding":{"x":{"field":"x","type":"quantitative","scale":{"domain":[-0.1,1.1],"range":[714,1194],"nice":false,"zero":false},"axis":null},
 "y":{"field":"y","type":"quantitative","scale":{"domain":[-1,6.5],"range":[603,33],"nice":false,"zero":false},"axis":null}}},
{"data":{"name":"arrB"},"mark":{"type":"line","strokeWidth":2,"color":"#000"},
 "encoding":{"x":{"field":"x","type":"quantitative","scale":{"domain":[-0.1,1.1],"range":[714,1194],"nice":false,"zero":false},"axis":null},
 "y":{"field":"y","type":"quantitative","scale":{"domain":[-1,6.5],"range":[603,33],"nice":false,"zero":false},"axis":null},
 "detail":{"field":"id","type":"nominal"}}},
{"data":{"name":"arrB"},"transform":[{"filter":"datum.id==1 && datum.y>4.6"}],"mark":{"type":"point","shape":"triangle-up","angle":20,"filled":true,"color":"#000","opacity":1,"size":80},
 "encoding":{"x":{"field":"x","type":"quantitative","scale":{"domain":[-0.1,1.1],"range":[714,1194],"nice":false,"zero":false},"axis":null},
 "y":{"field":"y","type":"quantitative","scale":{"domain":[-1,6.5],"range":[603,33],"nice":false,"zero":false},"axis":null}}},
{"data":{"name":"arrB"},"transform":[{"filter":"datum.id==2 && datum.y<3.6"}],"mark":{"type":"point","shape":"triangle-down","angle":333,"filled":true,"color":"#000","opacity":1,"size":80},
 "encoding":{"x":{"field":"x","type":"quantitative","scale":{"domain":[-0.1,1.1],"range":[714,1194],"nice":false,"zero":false},"axis":null},
 "y":{"field":"y","type":"quantitative","scale":{"domain":[-1,6.5],"range":[603,33],"nice":false,"zero":false},"axis":null}}},
{"data":{"name":"textBu"},"mark":{"type":"text","align":"left","baseline":"alphabetic","fontWeight":"bold","font":"Lato","color":"#000",
  "fontSize":{"expr":"datum.k=='letter'?56:datum.k=='vl'?23:datum.k=='eq'?21:datum.k=='sup'?11:12"}},
 "encoding":{"x":{"field":"x","type":"quantitative","scale":{"domain":[-0.1,1.1],"range":[714,1194],"nice":false,"zero":false},"axis":null},
 "y":{"field":"y","type":"quantitative","scale":{"domain":[-1,6.5],"range":[603,33],"nice":false,"zero":false},"axis":null},
 "text":{"field":"t"}}},
{"data":{"name":"textBi"},"mark":{"type":"text","align":"left","baseline":"alphabetic","fontWeight":"bold","fontStyle":"italic","font":"Lato","color":"#000",
  "fontSize":{"expr":"datum.k=='eq'?21:12"}},
 "encoding":{"x":{"field":"x","type":"quantitative","scale":{"domain":[-0.1,1.1],"range":[714,1194],"nice":false,"zero":false},"axis":null},
 "y":{"field":"y","type":"quantitative","scale":{"domain":[-1,6.5],"range":[603,33],"nice":false,"zero":false},"axis":null},
 "text":{"field":"t"}}},
{"data":{"name":"legTxtR"},"mark":{"type":"text","align":"left","baseline":"alphabetic","fontSize":23,"font":"Lato","color":"#000"},
 "encoding":{"x":{"field":"x","type":"quantitative","scale":{"domain":[-0.1,1.1],"range":[714,1194],"nice":false,"zero":false},"axis":null},
 "y":{"field":"y","type":"quantitative","scale":{"domain":[-1,6.5],"range":[603,33],"nice":false,"zero":false},"axis":null},
 "text":{"field":"t"}}},
{"data":{"name":"legTxtI"},"mark":{"type":"text","align":"left","baseline":"alphabetic","fontSize":23,"fontStyle":"italic","font":"Lato","color":"#000"},
 "encoding":{"x":{"field":"x","type":"quantitative","scale":{"domain":[-0.1,1.1],"range":[714,1194],"nice":false,"zero":false},"axis":null},
 "y":{"field":"y","type":"quantitative","scale":{"domain":[-1,6.5],"range":[603,33],"nice":false,"zero":false},"axis":null},
 "text":{"field":"t"}}},
{"data":{"name":"dummy"},"mark":{"type":"point","opacity":0},
 "encoding":{"x":{"field":"v","type":"quantitative","scale":{"domain":[-0.1,1.1],"range":[714,1194],"nice":false,"zero":false},
   "axis":{"orient":"bottom","offset":-100,"values":[0,0.2,0.4,0.6,0.8,1.0],"format":".1f","tickSize":-9,"labelFontSize":21,"labelPadding":25,"title":"Indium composition (χ)","titleFontSize":32,"titlePadding":19}},
 "y":{"field":"v","type":"quantitative","scale":{"domain":[-1,6.5],"range":[603,33],"nice":false,"zero":false},
   "axis":{"orient":"left","offset":-714,"values":[-1,-0.5,0,0.5,1,1.5,2,2.5,3,3.5,4,4.5,5,5.5,6,6.5],"format":".1f","labelExpr":"replace(datum.label,'\u2212','-')","tickSize":-9,"labelFontSize":21,"labelPadding":21,"title":"Lattice parameter (angstrom)","titleFontSize":34,"titlePadding":14}}}},
{"data":{"name":"dummy"},"mark":{"type":"point","opacity":0},
 "encoding":{"x":{"field":"v","type":"quantitative","scale":{"domain":[-0.1,1.1],"range":[714,1194],"nice":false,"zero":false},
   "axis":{"orient":"bottom","offset":-100,"values":[0.1,0.3,0.5,0.7,0.9],"tickSize":-5,"labels":false,"domain":false,"title":null}},
 "y":{"field":"v","type":"quantitative","scale":{"domain":[-1,6.5],"range":[603,33],"nice":false,"zero":false},
   "axis":{"orient":"left","offset":-714,"values":[-0.75,-0.25,0.25,0.75,1.25,1.75,2.25,2.75,3.25,3.75,4.25,4.75,5.25,5.75,6.25],"tickSize":-5,"labels":false,"domain":false,"title":null}}}},
{"data":{"name":"dummy"},"mark":{"type":"point","opacity":0},
 "encoding":{"x":{"field":"v","type":"quantitative","scale":{"domain":[-0.1,1.1],"range":[714,1194],"nice":false,"zero":false},
   "axis":{"orient":"top","offset":-33,"values":[0,0.2,0.4,0.6,0.8,1.0],"tickSize":-9,"labels":false,"title":null}},
 "y":{"field":"v","type":"quantitative","scale":{"domain":[-1,6.5],"range":[603,33],"nice":false,"zero":false},
   "axis":{"orient":"right","offset":-6,"values":[-1,-0.5,0,0.5,1,1.5,2,2.5,3,3.5,4,4.5,5,5.5,6,6.5],"tickSize":-9,"labels":false,"title":null}}}},
{"data":{"name":"dummy"},"mark":{"type":"point","opacity":0},
 "encoding":{"x":{"field":"v","type":"quantitative","scale":{"domain":[-0.1,1.1],"range":[714,1194],"nice":false,"zero":false},
   "axis":{"orient":"top","offset":-33,"values":[0.1,0.3,0.5,0.7,0.9],"tickSize":-5,"labels":false,"domain":false,"title":null}},
 "y":{"field":"v","type":"quantitative","scale":{"domain":[-1,6.5],"range":[603,33],"nice":false,"zero":false},
   "axis":{"orient":"right","offset":-6,"values":[-0.75,-0.25,0.25,0.75,1.25,1.75,2.25,2.75,3.25,3.75,4.25,4.75,5.25,5.75,6.25],"tickSize":-5,"labels":false,"domain":false,"title":null}}}},

{"data":{"name":"fit"},"mark":{"type":"line","strokeWidth":2,"strokeDash":[8,6],"color":"#ff2020"},
 "encoding":{"x":{"field":"x","type":"quantitative","scale":{"domain":[0.55,0.85],"range":[812,1125],"nice":false,"zero":false},"axis":null},
 "y":{"field":"y","type":"quantitative","scale":{"domain":[-4.18,1.175],"range":[313,537],"nice":false,"zero":false},"axis":null}}},
{"data":{"name":"fitLeg"},"mark":{"type":"line","strokeWidth":2,"strokeDash":[8,6],"color":"#ff2020"},
 "encoding":{"x":{"field":"x","type":"quantitative","scale":{"domain":[0.55,0.85],"range":[812,1125],"nice":false,"zero":false},"axis":null},
 "y":{"field":"y","type":"quantitative","scale":{"domain":[-4.18,1.175],"range":[313,537],"nice":false,"zero":false},"axis":null}}},
{"data":{"name":"ipts"},"mark":{"type":"point","filled":true,"opacity":1,"size":190,"strokeWidth":0,
  "fill":{"gradient":"radial","x1":0.4,"y1":0.3,"r1":0,"x2":0.5,"y2":0.5,"r2":0.55,"stops":[{"offset":0,"color":"#ffffff"},{"offset":0.2,"color":"#6060ff"},{"offset":0.65,"color":"#1010e0"},{"offset":1,"color":"#00008a"}]}},
 "encoding":{"x":{"field":"x","type":"quantitative","scale":{"domain":[0.55,0.85],"range":[812,1125],"nice":false,"zero":false},"axis":null},
 "y":{"field":"y","type":"quantitative","scale":{"domain":[-4.18,1.175],"range":[313,537],"nice":false,"zero":false},"axis":null}}},
{"data":{"name":"fitTxt"},"mark":{"type":"text","align":"left","baseline":"alphabetic","fontSize":14,"font":"Lato","color":"#000"},
 "encoding":{"x":{"field":"x","type":"quantitative","scale":{"domain":[0.55,0.85],"range":[812,1125],"nice":false,"zero":false},"axis":null},
 "y":{"field":"y","type":"quantitative","scale":{"domain":[-4.18,1.175],"range":[313,537],"nice":false,"zero":false},"axis":null},
 "text":{"field":"t"}}},
{"data":{"name":"dummy"},"mark":{"type":"point","opacity":0},
 "encoding":{"x":{"field":"v","type":"quantitative","scale":{"domain":[0.55,0.85],"range":[812,1125],"nice":false,"zero":false},
   "axis":{"orient":"bottom","offset":-166,"values":[0.55,0.6,0.65,0.7,0.75,0.8,0.85],"format":".2f","tickSize":-6,"labelFontSize":14,"labelPadding":13,"title":"In composition (χ)","titleFontSize":18,"titlePadding":8}},
 "y":{"field":"v","type":"quantitative","scale":{"domain":[-4.18,1.175],"range":[313,537],"nice":false,"zero":false},
   "axis":{"orient":"left","offset":-812,"values":[-4,-3,-2,-1,0,1],"format":"d","labelExpr":"replace(datum.label,'\u2212','-')","tickSize":-6,"labelFontSize":14,"labelPadding":13,"title":"in-plane residual stress (GPa)","titleFontSize":16,"titlePadding":12}}}},
{"data":{"name":"dummy"},"mark":{"type":"point","opacity":0},
 "encoding":{"x":{"field":"v","type":"quantitative","scale":{"domain":[0.55,0.85],"range":[812,1125],"nice":false,"zero":false},
   "axis":{"orient":"bottom","offset":-166,"values":[0.575,0.625,0.675,0.725,0.775,0.825],"tickSize":-3,"labels":false,"domain":false,"title":null}},
 "y":{"field":"v","type":"quantitative","scale":{"domain":[-4.18,1.175],"range":[313,537],"nice":false,"zero":false},
   "axis":{"orient":"left","offset":-812,"values":[-3.5,-2.5,-1.5,-0.5,0.5],"tickSize":-3,"labels":false,"domain":false,"title":null}}}},
{"data":{"name":"dummy"},"mark":{"type":"point","opacity":0},
 "encoding":{"x":{"field":"v","type":"quantitative","scale":{"domain":[0.55,0.85],"range":[812,1125],"nice":false,"zero":false},
   "axis":{"orient":"top","offset":-313,"ticks":false,"labels":false,"title":null,"values":[]}},
 "y":{"field":"v","type":"quantitative","scale":{"domain":[-4.18,1.175],"range":[313,537],"nice":false,"zero":false},
   "axis":{"orient":"right","offset":-75,"values":[-4,-3.5,-3,-2.5,-2,-1.5,-1,-0.5,0,0.5,1],"tickSize":-6,"labels":false,"title":null}}}}
]
}
